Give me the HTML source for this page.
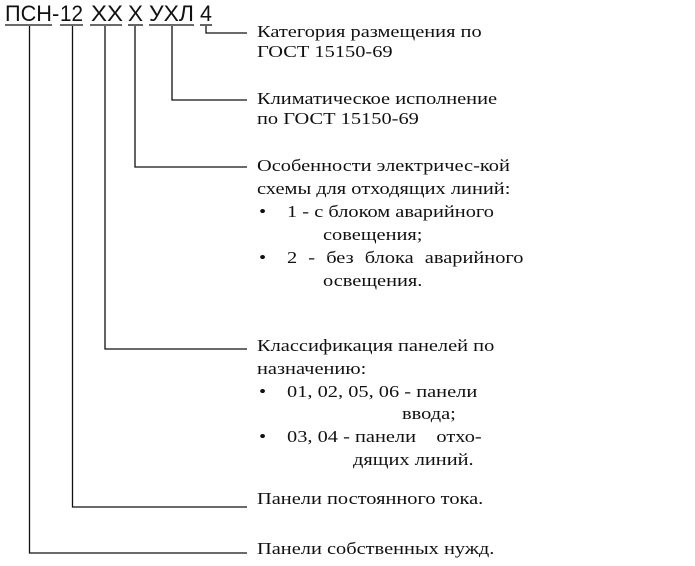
<!DOCTYPE html>
<html><head><meta charset="utf-8"><style>
body{margin:0;background:#fff;width:695px;height:566px;overflow:hidden;position:relative}
svg{position:absolute;left:0;top:0}
.t{position:absolute;font-family:"Liberation Serif",serif;font-size:17px;color:#111;white-space:nowrap;line-height:20px;transform:scaleX(1.2);transform-origin:0 0}
</style></head><body>
<svg width="695" height="566" font-family="Liberation Sans, sans-serif" font-size="22" fill="#111">
<text x="5" y="21" textLength="47" lengthAdjust="spacingAndGlyphs">ПСН</text>
<text x="52" y="21">-</text>
<text x="60" y="21" textLength="23" lengthAdjust="spacingAndGlyphs">12</text>
<text x="91" y="21" textLength="32" lengthAdjust="spacingAndGlyphs">ХХ</text>
<text x="128" y="21" textLength="15" lengthAdjust="spacingAndGlyphs">Х</text>
<text x="149" y="21" textLength="45" lengthAdjust="spacingAndGlyphs">УХЛ</text>
<text x="200" y="21" textLength="12" lengthAdjust="spacingAndGlyphs">4</text>
<g stroke="#111" stroke-width="1.3" fill="none">
<line x1="5" y1="25" x2="52" y2="25"/><line x1="60" y1="25" x2="83" y2="25"/>
<line x1="90" y1="25" x2="122" y2="25"/><line x1="128" y1="25" x2="143" y2="25"/>
<line x1="149" y1="25" x2="194" y2="25"/><line x1="200" y1="25" x2="212" y2="25"/>
<polyline points="206,26 206,33 247,33"/>
<polyline points="172,26 172,100 247,100"/>
<polyline points="135,26 135,167 247,167"/>
<polyline points="105,26 105,349 247,349"/>
<polyline points="72.5,26 72.5,507 247,507"/>
<polyline points="29.5,26 29.5,553 247,553"/>
</g></svg>
<div class="t" style="left:257px;top:22px">Категория размещения по</div>
<div class="t" style="left:257px;top:42px">ГОСТ 15150-69</div>
<div class="t" style="left:257px;top:89px">Климатическое исполнение</div>
<div class="t" style="left:257px;top:109px">по ГОСТ 15150-69</div>
<div class="t" style="left:257px;top:156px">Особенности электричес-кой</div>
<div class="t" style="left:257px;top:179px">схемы для отходящих линий:</div>
<div class="t" style="left:259px;top:202px">•</div><div class="t" style="left:287px;top:202px">1 - с блоком аварийного</div>
<div class="t" style="left:323px;top:225px">совещения;</div>
<div class="t" style="left:259px;top:248px">•</div><div class="t" style="left:287px;top:248px;word-spacing:5px">2 - без блока аварийного</div>
<div class="t" style="left:323px;top:271px">освещения.</div>
<div class="t" style="left:257px;top:336px">Классификация панелей по</div>
<div class="t" style="left:257px;top:359px">назначению:</div>
<div class="t" style="left:259px;top:382px">•</div><div class="t" style="left:287px;top:382px">01, 02, 05, 06 - панели</div>
<div class="t" style="left:402px;top:404px">ввода;</div>
<div class="t" style="left:259px;top:427px">•</div><div class="t" style="left:287px;top:427px">03, 04 - панели&nbsp;&nbsp;&nbsp; отхо-</div>
<div class="t" style="left:353px;top:450px">дящих линий.</div>
<div class="t" style="left:257px;top:489px">Панели постоянного тока.</div>
<div class="t" style="left:257px;top:539px">Панели собственных нужд.</div>
</body></html>
